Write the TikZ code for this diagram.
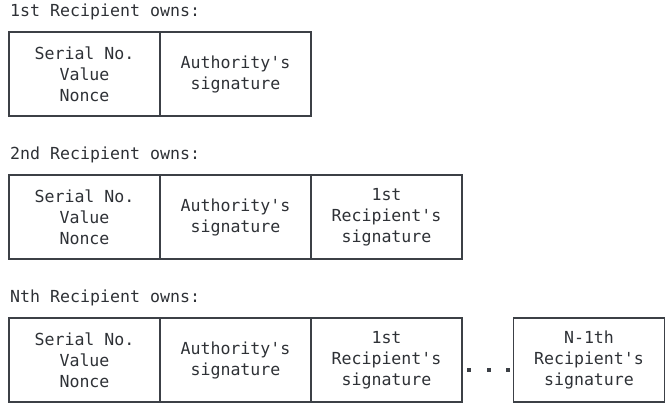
\documentclass[tikz,border=0pt]{standalone}
\usepackage{fontspec}
\setmonofont{DejaVu Sans Mono}
\definecolor{ln}{HTML}{3C4046}
\definecolor{tx}{HTML}{2E3136}
\begin{document}
\begin{tikzpicture}[x=1pt,y=-1pt,
  cell/.style={draw=ln,line width=1.4pt,minimum width=151pt,minimum height=84pt,inner sep=0pt,
    align=center,text=tx,font=\ttfamily\fontsize{16.6}{21}\selectfont},
  title/.style={anchor=west,inner sep=0pt,text=tx,font=\ttfamily\fontsize{16.6}{21}\selectfont},
  dot/.style={fill=ln,minimum size=4pt,inner sep=0pt}]
\useasboundingbox (0,0) rectangle (665,405);
% Row 1
\node[title] (t1) at (10,12) {1st Recipient owns:};
\node[cell] (a1) at (84.5,74) {Serial No.\\Value\\Nonce};
\node[cell] (b1) at (235.5,74) {Authority's\\signature};
% Row 2
\node[title] (t2) at (10,155) {2nd Recipient owns:};
\node[cell] (a2) at (84.5,217) {Serial No.\\Value\\Nonce};
\node[cell] (b2) at (235.5,217) {Authority's\\signature};
\node[cell] (c2) at (386.5,217) {1st\\Recipient's\\signature};
% Row 3
\node[title] (t3) at (10,298) {Nth Recipient owns:};
\node[cell] (a3) at (84.5,360) {Serial No.\\Value\\Nonce};
\node[cell] (b3) at (235.5,360) {Authority's\\signature};
\node[cell] (c3) at (386.5,360) {1st\\Recipient's\\signature};
\node[cell] (d3) at (589,360) {N-1th\\Recipient's\\signature};
\node[dot] (p1) at (469,370) {};
\node[dot] (p2) at (488.5,370) {};
\node[dot] (p3) at (508,370) {};
\end{tikzpicture}
\end{document}
